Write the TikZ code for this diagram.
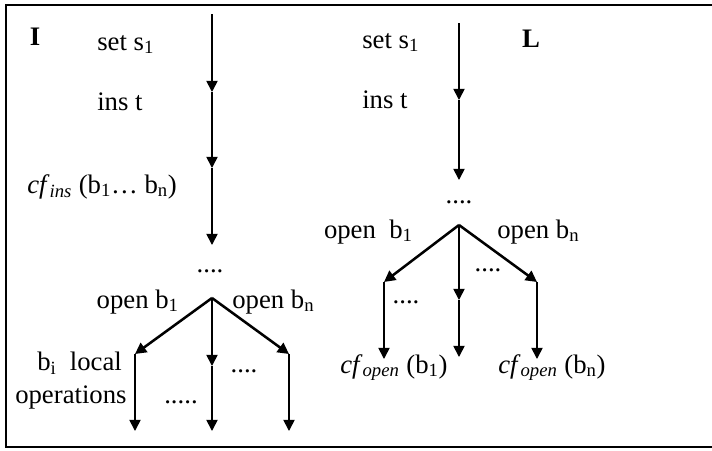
\documentclass[tikz,border=0pt]{standalone}
\usepackage{fontspec}
\setmainfont{Liberation Serif}
\usetikzlibrary{arrows.meta}

\begin{document}
\begin{tikzpicture}[x=0.025cm, y=-0.025cm,
  lbl/.style={inner sep=0pt, font=\fontsize{19}{21}\selectfont},
  flow/.style={line width=1.2pt, -{Triangle[length=8pt,width=8pt]}},
  branch/.style={flow, line width=1.8pt}]
  \useasboundingbox (0,0) rectangle (712,450);
  % Frame
  \draw[line width=1.3pt] (712,5) -- (6,5) -- (6,447) -- (712,447);

  % Left: I
  \node[lbl, anchor=base] (tagI) at (35,45) {\textbf{I}};
  \node[lbl, anchor=base west] (isets) at (97,50) {set s\textsubscript{1}};
  \node[lbl, anchor=base west] (iinst) at (97,110) {ins t};
  \node[lbl, anchor=base west] (icf) at (27,193)
    {\textit{cf}\textsubscript{\textit{ins}} (b\textsubscript{1}\dots\ b\textsubscript{n})};
  \node[lbl, anchor=base] (idots) at (210,272) {....};
  \node[lbl, anchor=base east] (iopen1) at (179,308) {open b\textsubscript{1}};
  \node[lbl, anchor=base west] (iopenn) at (232,308) {open b\textsubscript{n}};
  \node[lbl, anchor=base west] (iloc) at (37,370) {b\textsubscript{i}\ \ local};
  \node[lbl, anchor=base west] (iops) at (15,403) {operations};
  \node[lbl, anchor=base] (imdots) at (244,372) {....};
  \node[lbl, anchor=base] (ibdots) at (181,403) {.....};
  \coordinate (i0) at (212,14);
  \coordinate (i1) at (212,92);
  \coordinate (i2) at (212,168);
  \coordinate (i3) at (212,245);
  \coordinate (ifork) at (212,298);
  \coordinate (il) at (135,354);
  \coordinate (im) at (212,366);
  \coordinate (ir) at (289,354);
  \coordinate (ilb) at (135,431);
  \coordinate (imb) at (212,431);
  \coordinate (irb) at (289,431);
  \draw[flow] (i0) -- (i1);
  \draw[flow] (i1) -- (i2);
  \draw[flow] (i2) -- (i3);
  \draw[branch] (ifork) -- (il);
  \draw[branch] (ifork) -- (ir);
  \draw[flow] (ifork) -- (im);
  \draw[flow] (im) -- (imb);
  \draw[flow] (il) -- (ilb);
  \draw[flow] (ir) -- (irb);

  % Right: L
  \node[lbl, anchor=base west] (lsets) at (362,48) {set s\textsubscript{1}};
  \node[lbl, anchor=base] (tagL) at (531,47) {\textbf{L}};
  \node[lbl, anchor=base west] (linst) at (362,108) {ins t};
  \node[lbl, anchor=base] (ldots) at (459,203) {....};
  \node[lbl, anchor=base east] (lopen1) at (413,238) {open\ \ b\textsubscript{1}};
  \node[lbl, anchor=base west] (lopenn) at (497,238) {open b\textsubscript{n}};
  \node[lbl, anchor=base] (lmdots) at (488,271) {....};
  \node[lbl, anchor=base] (lldots) at (406,303) {....};
  \node[lbl, anchor=base west] (lcf1) at (340,373)
    {\textit{cf}\textsubscript{\textit{open}} (b\textsubscript{1})};
  \node[lbl, anchor=base west] (lcfn) at (498,373)
    {\textit{cf}\textsubscript{\textit{open}} (b\textsubscript{n})};
  \coordinate (l0) at (459,23);
  \coordinate (l1) at (459,100);
  \coordinate (l2) at (459,180);
  \coordinate (lfork) at (459,225);
  \coordinate (ll) at (384,282);
  \coordinate (lm) at (459,300);
  \coordinate (lr) at (537,282);
  \coordinate (llb) at (384,359);
  \coordinate (lmb) at (459,357);
  \coordinate (lrb) at (537,359);
  \draw[flow] (l0) -- (l1);
  \draw[flow] (l1) -- (l2);
  \draw[branch] (lfork) -- (ll);
  \draw[branch] (lfork) -- (lr);
  \draw[flow] (lfork) -- (lm);
  \draw[flow] (lm) -- (lmb);
  \draw[flow] (ll) -- (llb);
  \draw[flow] (lr) -- (lrb);
\end{tikzpicture}
\end{document}
